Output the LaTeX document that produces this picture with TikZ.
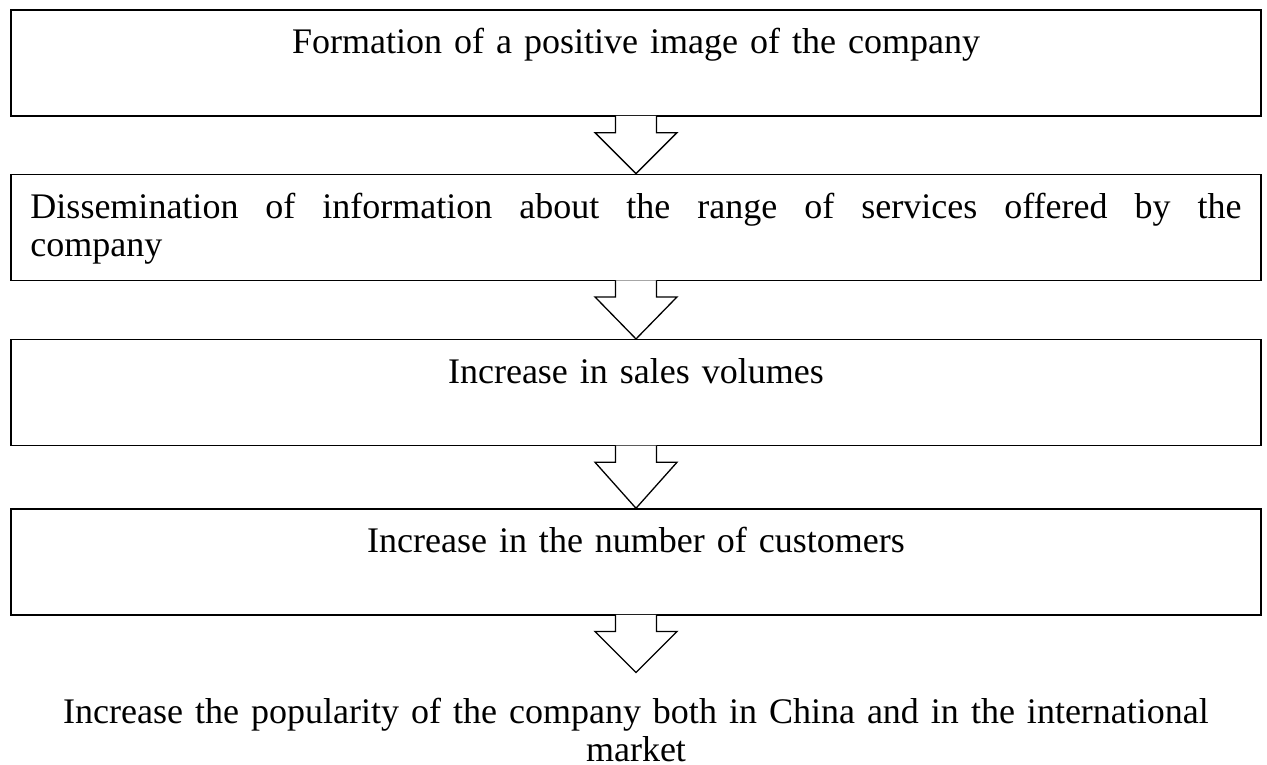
\documentclass[tikz,border=0pt]{standalone}
\usepackage{fontspec}
\setmainfont{Liberation Serif}
\usetikzlibrary{positioning,calc}
\hyphenpenalty=10000
\exhyphenpenalty=10000

\begin{document}
\begin{tikzpicture}[
	x=1pt,y=1pt,
	stage/.style={draw,line width=1.3pt,minimum width=1250pt,minimum height=106pt,inner sep=0pt},
	caption/.style={inner sep=0pt,text width=1211pt,font=\fontsize{36}{38}\selectfont},
	blockarrow/.style={line width=1.3pt,fill=white,line join=miter}
	]
	\useasboundingbox (0,0) rectangle (1267,-764);

	% boxes of the chain
	\node[stage] (b1) at (636,-63) {};
	\node[stage,below=57pt of b1] (b2) {};
	\node[stage,below=58pt of b2] (b3) {};
	\node[stage,below=62pt of b3] (b4) {};
	\coordinate[below=57pt of b4.south] (tip);

	% texts
	\node[caption,align=center,below=19pt of b1.north] (t1) {Formation of a positive image of the company};
	\node[caption,align=justify,below=19pt of b2.north] (t2) {Dissemination of information about the range of services offered by the\linebreak company};
	\node[caption,align=center,below=19pt of b3.north] (t3) {Increase in sales volumes};
	\node[caption,align=center,below=19pt of b4.north] (t4) {Increase in the number of customers};
	\node[caption,align=center,below=25pt of tip] (t5) {Increase the popularity of the company both in China and in the international\\market};

	% hollow arrows between the boxes
	\foreach \from/\to in {b1/b2.north,b2/b3.north,b3/b4.north,b4/tip}
		\draw[blockarrow] ($(\from.south)+(-20.5,0.7)$) -- ($(\from.south)+(-20.5,-16)$) -- ($(\from.south)+(-41,-16)$)
			-- (\to) -- ($(\from.south)+(41,-16)$) -- ($(\from.south)+(20.5,-16)$) -- ($(\from.south)+(20.5,0.7)$);
\end{tikzpicture}
\end{document}
